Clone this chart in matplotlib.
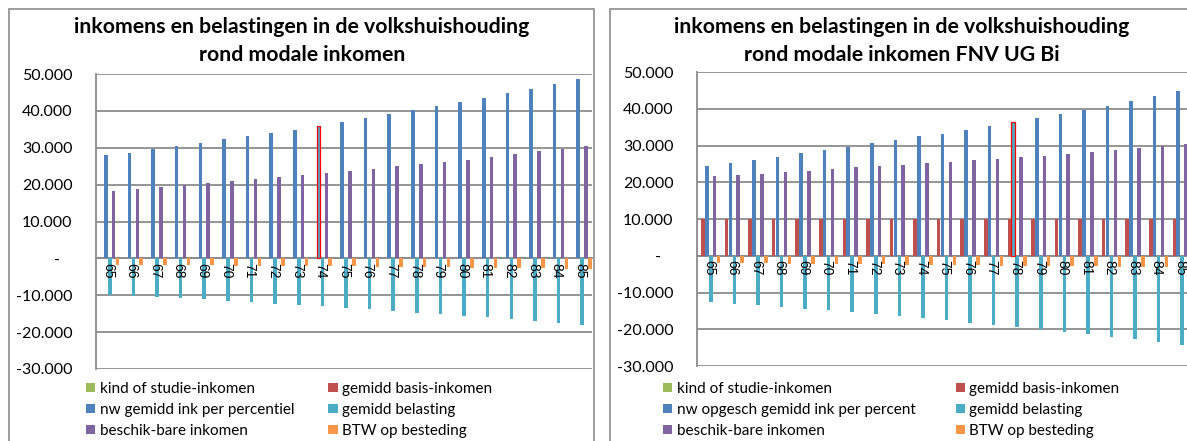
import matplotlib
matplotlib.use("Agg")
import matplotlib.pyplot as plt
import numpy as np
from matplotlib.patches import Rectangle
from matplotlib.ticker import FuncFormatter

# percentiel categories on the x axis
categories = [str(p) for p in range(65, 86)]

# left chart: rond modale inkomen
left_kind = [0] * 21
left_basis = [0] * 21
left_bruto = [27900, 28700, 29550, 30450, 31400, 32300, 33200, 34000, 34900, 35800,
              37000, 38000, 39100, 40300, 41300, 42400, 43500, 44800, 46000, 47300, 48600]
left_belasting = [-9800, -10100, -10450, -10700, -11100, -11500, -11900, -12300, -12600, -13000,
                  -13400, -13800, -14200, -14700, -15100, -15500, -16000, -16400, -16900, -17500, -18000]
left_beschikbaar = [18300, 18900, 19300, 19900, 20450, 20900, 21500, 22000, 22500, 23150,
                    23700, 24300, 24950, 25500, 26200, 26800, 27500, 28200, 29000, 29700, 30500]
left_btw = [-1700, -1750, -1800, -1850, -1900, -1950, -2000, -2050, -2100, -2150,
            -2200, -2300, -2350, -2400, -2450, -2500, -2550, -2600, -2700, -2800, -2950]

# right chart: FNV UG Bi
right_kind = [0] * 21
right_basis = [10000] * 21
right_bruto = [24460, 25270, 26090, 26990, 27900, 28800, 29620, 30620, 31430, 32520,
               33240, 34330, 35420, 36500, 37500, 38590, 39580, 40850, 42120, 43390, 44750]
right_belasting = [-12590, -13040, -13500, -13950, -14400, -14860, -15400, -15850, -16400, -16940,
                   -17570, -18210, -18750, -19380, -20020, -20650, -21290, -22010, -22640, -23460, -24180]
right_beschikbaar = [21650, 21920, 22280, 22740, 23190, 23640, 24090, 24460, 24820, 25270,
                     25540, 26000, 26360, 26810, 27260, 27720, 28260, 28800, 29260, 29800, 30430]
right_btw = [-2000, -2050, -2100, -2150, -2200, -2250, -2300, -2350, -2400, -2500,
             -2600, -2650, -2700, -2750, -2800, -2850, -2900, -3000, -3050, -3150, -3300]

left_labels = ["kind of studie-inkomen", "gemidd basis-inkomen", "nw gemidd ink per percentiel",
               "gemidd belasting", "beschik-bare inkomen", "BTW op besteding"]
right_labels = ["kind of studie-inkomen", "gemidd basis-inkomen", "nw opgesch gemidd ink per percent",
                "gemidd belasting", "beschik-bare inkomen", "BTW op besteding"]

colors = ["#9BBB59", "#C0504D", "#4F81BD", "#4BACC6", "#8064A2", "#F79646"]
grid_grey = "#8C8C8C"

W, H = 1187, 441
fig = plt.figure(figsize=(W / 100, H / 100), dpi=100)
plt.rcParams['font.family'] = ['Lato', 'DejaVu Sans']


def px_box(x0, y0, x1, y1):
    # pixel box (top-left origin) -> figure fraction rect
    return [x0 / W, 1 - y1 / H, (x1 - x0) / W, (y1 - y0) / H]


def thousands(v, pos):
    if v == 0:
        return "-   "
    return "{:,.0f}".format(v).replace(",", ".")


def draw_chart(box, series, labels, highlight, title, title_x, legend_x, col2_x):
    ax = fig.add_axes(px_box(*box))
    # x axis crosses at zero; do this first, it resets the ticks
    ax.spines['bottom'].set_position(('data', 0))
    x = np.arange(len(categories))
    handles = []
    for i, vals in enumerate(series):
        off = (i - 2.5) / 6
        bars = ax.bar(x + off, vals, width=0.15, color=colors[i], zorder=3, label=labels[i])
        handles.append(bars)
        if i == 2:
            bars[highlight].set_edgecolor("#FF0000")
            bars[highlight].set_linewidth(0.9)
            bars[highlight].set_facecolor("#4BACC6")
            bars[highlight].set_zorder(4)
    ax.set_xlim(-0.5, len(categories) - 0.5)
    ax.set_ylim(-30000, 50000)
    ax.set_yticks(range(-30000, 50001, 10000))
    ax.yaxis.set_major_formatter(FuncFormatter(thousands))
    ax.yaxis.grid(True, color=grid_grey, linewidth=1.3)
    ax.set_axisbelow(True)
    ax.xaxis.set_zorder(5)  # category labels sit on top of the bars
    ax.set_xticks(x)
    ax.set_xticklabels(categories, family="Liberation Sans", fontsize=10)
    ax.tick_params(axis='x', length=0, pad=3, labelrotation=-90)
    ax.spines['bottom'].set_color(grid_grey)
    ax.spines['bottom'].set_linewidth(1.3)
    ax.spines['left'].set_color(grid_grey)
    ax.spines['left'].set_linewidth(1.3)
    ax.spines['top'].set_visible(False)
    ax.spines['right'].set_visible(False)
    ax.tick_params(axis='y', length=0, pad=17, labelsize=11.5)

    fig.text(title_x / W, 1 - 41 / H, title, ha="center", va="center",
             fontsize=15.3, fontweight="bold", linespacing=1.45)

    # legend laid out row by row like Excel: two columns
    order = [0, 2, 4, 1, 3, 5]
    leg = ax.legend([handles[k] for k in order], [labels[k] for k in order],
                    ncol=2, frameon=False, loc="upper left",
                    bbox_to_anchor=(legend_x / W, 1 - 382 / H), bbox_transform=fig.transFigure,
                    fontsize=11, handlelength=0.6, handleheight=0.6, handletextpad=0.3,
                    labelspacing=0.45, columnspacing=(col2_x - legend_x) / 15 - 14.5,
                    borderpad=0, borderaxespad=0)
    return ax, leg


draw_chart((96, 74, 592, 369),
           [left_kind, left_basis, left_bruto, left_belasting, left_beschikbaar, left_btw],
           left_labels, 9,
           "inkomens en belastingen in de volkshuishouding\nrond modale inkomen", 302, 86, 337)
draw_chart((697, 72, 1192, 366),
           [right_kind, right_basis, right_bruto, right_belasting, right_beschikbaar, right_btw],
           right_labels, 13,
           "inkomens en belastingen in de volkshuishouding\nrond modale inkomen FNV UG Bi", 902, 663, 920)

# chart borders
fig.add_artist(Rectangle((9 / W, -0.1), (594 - 9) / W, 1.1 - 9 / H, transform=fig.transFigure,
                         fill=False, edgecolor="#8C8C8C", linewidth=1.2))
fig.add_artist(Rectangle((610 / W, -0.1), 0.6, 1.1 - 9 / H, transform=fig.transFigure,
                         fill=False, edgecolor="#8C8C8C", linewidth=1.2))

fig.savefig("out.png", dpi=100)
